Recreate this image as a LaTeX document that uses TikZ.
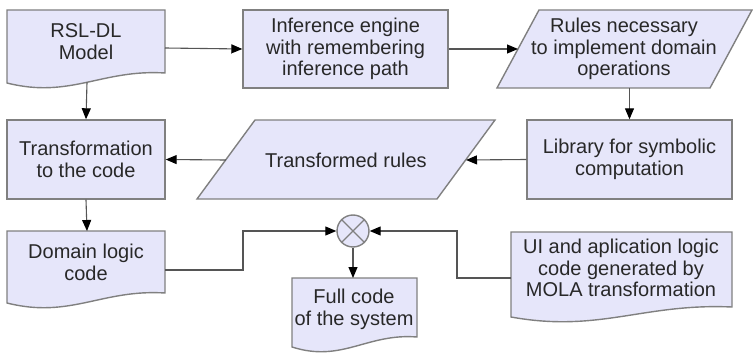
\documentclass[tikz,border=0pt]{standalone}
\usepackage{fontspec}
\setmainfont{Liberation Sans}
\usetikzlibrary{arrows.meta}
\definecolor{boxfill}{RGB}{230,230,250}
\definecolor{boxline}{RGB}{128,128,128}
\definecolor{connline}{RGB}{85,85,85}
\definecolor{txtcol}{RGB}{40,40,40}
\begin{document}
\begin{tikzpicture}[x=1pt,y=-1pt,
  shapebox/.style={fill=boxfill,draw=boxline,line width=1.4pt},
  rectbox/.style={shapebox,rectangle,inner sep=0pt},
  txt/.style={align=center,font=\fontsize{20}{21.8}\selectfont,text=txtcol,inner sep=0pt},
  arr/.style={draw=connline,line width=1.1pt,-{Triangle[length=11pt,width=9pt,color=black]}}]
\useasboundingbox (0,0) rectangle (753,353);

% RSL-DL Model (document)
\draw[shapebox] (7,10) -- (165,10) -- (165,73) .. controls (101.8,69) and (70.2,99) .. (7,83) -- cycle;
\node[txt] (rsl) at (86,42) {RSL-DL\\Model};
\coordinate (rslE) at (165,48);
\coordinate (rslS) at (87,82.5);

% Inference engine
\node[rectbox,minimum width=205,minimum height=78] (inf) at (345.5,49) {};
\node[txt] (inftxt) at (345.5,49) {Inference engine\\with remembering\\inference path};

% Rules necessary (parallelogram)
\draw[shapebox] (497,88) -- (539,10) -- (752,10) -- (710,88) -- cycle;
\node[txt] (rules) at (624,49) {Rules necessary\\to implement domain\\operations};
\coordinate (rulesW) at (518,49);
\coordinate (rulesS) at (629.5,88);

% Library
\node[rectbox,minimum width=205,minimum height=79] (lib) at (629.5,159.5) {};
\node[txt] (libtxt) at (629.5,159) {Library for symbolic\\computation};

% Transformed rules (parallelogram)
\draw[shapebox] (197,199) -- (255,120) -- (495,120) -- (437,199) -- cycle;
\node[txt] (trules) at (346,160) {Transformed rules};
\coordinate (trE) at (466,160);
\coordinate (trW) at (226,160);

% Transformation to the code
\node[rectbox,minimum width=158,minimum height=79] (trans) at (86,159.5) {};
\node[txt] (transtxt) at (86,159) {Transformation\\to the code};

% Domain logic code (document)
\draw[shapebox] (7,231) -- (165,231) -- (165,293) .. controls (101.8,289) and (70.2,319) .. (7,303) -- cycle;
\node[txt] (dom) at (86,262) {Domain logic\\code};
\coordinate (domN) at (87,231);
\coordinate (domE) at (165,270);

% Junction circle
\node[circle,fill=boxfill,draw=boxline,line width=1.4pt,minimum size=32,inner sep=0pt] (circ) at (353,231) {};
\draw[boxline,line width=1.2pt] (circ.north east) -- (circ.south west) (circ.north west) -- (circ.south east);

% Full code of the system (document)
\draw[shapebox] (292,278) -- (417,278) -- (417,337) .. controls (367,333) and (342,363) .. (292,347) -- cycle;
\node[txt] (full) at (354,309) {Full code\\of the system};
\coordinate (fullN) at (353,278);

% UI and application logic (document)
\draw[shapebox] (511,232) -- (732,232) -- (732,307) .. controls (643.6,303) and (599.4,333) .. (511,317) -- cycle;
\node[txt] (ui) at (621,268) {UI and aplication logic\\code generated by\\MOLA transformation};
\coordinate (uiW) at (511,278);

% Connectors
\draw[arr] (rslE) -- (inf.west);
\draw[arr] (inf.east) -- (rulesW);
\draw[arr] (rulesS) -- (lib.north);
\draw[arr] (lib.west) -- (trE);
\draw[arr] (trW) -- (trans.east);
\draw[arr] (rslS) -- (trans.north);
\draw[arr] (trans.south) -- (domN);
\draw[arr] (domE) -- ++(78,0) |- (circ.west);
\draw[arr] (uiW) -- ++(-54,0) |- (circ.east);
\draw[arr] (circ.south) -- (fullN);
\end{tikzpicture}
\end{document}
